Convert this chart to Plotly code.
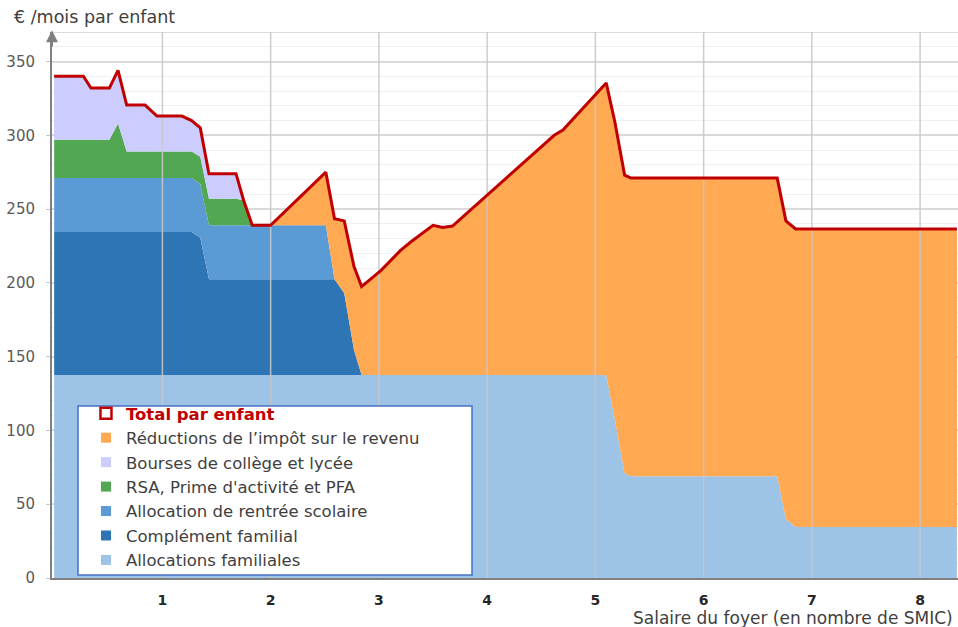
import plotly.graph_objects as go

# Salaire du foyer, en nombre de SMIC (points de rupture des barèmes)
salaire_smic = [0, 0.27, 0.34, 0.51, 0.59, 0.67, 0.84, 0.95, 1.18, 1.27,
                1.35, 1.43, 1.68, 1.75, 1.83, 2.0, 2.51, 2.59, 2.68, 2.77,
                2.84, 3.02, 3.2, 3.3, 3.5, 3.59, 3.68, 4.0, 4.62, 4.7,
                5.1, 5.18, 5.27, 5.33, 6.68, 6.76, 6.85, 8.34]

# Montants en euros par mois et par enfant
allocations_familiales = [137.5, 137.5, 137.5, 137.5, 137.5, 137.5, 137.5, 137.5, 137.5, 137.5,
                          137.5, 137.5, 137.5, 137.5, 137.5, 137.5, 137.5, 137.5, 137.5, 137.5,
                          137.5, 137.5, 137.5, 137.5, 137.5, 137.5, 137.5, 137.5, 137.5, 137.5,
                          137.5, 107, 71, 69, 69, 40, 34.5, 34.5]
complement_familial = [97, 97, 97, 97, 97, 97, 97, 97, 97, 97,
                       93, 65, 65, 65, 65, 65, 65, 65, 55.5, 17,
                       0, 0, 0, 0, 0, 0, 0, 0, 0, 0,
                       0, 0, 0, 0, 0, 0, 0, 0]
rentree_scolaire = [36.5, 36.5, 36.5, 36.5, 36.5, 36.5, 36.5, 36.5, 36.5, 36.5,
                    36.5, 36.5, 36.5, 36.5, 36.5, 36.5, 36.5, 0, 0, 0,
                    0, 0, 0, 0, 0, 0, 0, 0, 0, 0,
                    0, 0, 0, 0, 0, 0, 0, 0]
rsa_prime_pfa = [26, 26, 26, 26, 37, 18, 18, 18, 18, 18,
                 18.5, 18, 18, 17, 0, 0, 0, 0, 0, 0,
                 0, 0, 0, 0, 0, 0, 0, 0, 0, 0,
                 0, 0, 0, 0, 0, 0, 0, 0]
bourses = [43, 43, 35, 35, 36, 31.5, 31.5, 24, 24, 21,
           19.5, 17, 17, 0, 0, 0, 0, 0, 0, 0,
           0, 0, 0, 0, 0, 0, 0, 0, 0, 0,
           0, 0, 0, 0, 0, 0, 0, 0]
reductions_impot = [0, 0, 0, 0, 0, 0, 0, 0, 0, 0,
                    0, 0, 0, 0, 0, 0, 36, 41, 49, 56.5,
                    60, 71, 84.5, 90.5, 101.5, 100, 101, 122, 162.5, 166,
                    198, 202, 202, 202, 202, 202, 202, 202]

x_ticks = [1, 2, 3, 4, 5, 6, 7, 8]
x_tick_labels = ["1", "2", "3", "4", "5", "6", "7", "8"]
y_ticks = [0, 50, 100, 150, 200, 250, 300, 350]

# Couches empilées, du bas vers le haut
layers = [
    ("Allocations familiales", allocations_familiales, "#9DC3E6"),
    ("Complément familial", complement_familial, "#2E75B6"),
    ("Allocation de rentrée scolaire", rentree_scolaire, "#5B9BD5"),
    ("RSA, Prime d'activité et PFA", rsa_prime_pfa, "#52A852"),
    ("Bourses de collège et lycée", bourses, "#CCCCFF"),
    ("Réductions de l’impôt sur le revenu", reductions_impot, "#FFA953"),
]

total = [sum(vals) for vals in zip(*[l[1] for l in layers])]

Y_MAX = 370
TOTAL_COLOR = "#C00000"
TEXT_COLOR = "#404040"
FONT = "DejaVu Sans"

fig = go.Figure()

for name, values, color in layers:
    fig.add_trace(go.Scatter(
        x=salaire_smic, y=values, name=name, mode="none",
        stackgroup="aides", fillcolor=color, showlegend=False,
        hoverinfo="skip",
    ))

# Lignes verticales de la grille, dessinées au-dessus des aires
grid_x, grid_y = [], []
for t in x_ticks:
    grid_x += [t, t, None]
    grid_y += [0, Y_MAX, None]
fig.add_trace(go.Scatter(
    x=grid_x, y=grid_y, mode="lines",
    line=dict(color="rgba(200,200,200,0.9)", width=1.5),
    showlegend=False, hoverinfo="skip",
))

fig.add_trace(go.Scatter(
    x=salaire_smic, y=total, mode="lines", name="Total par enfant",
    line=dict(color=TOTAL_COLOR, width=3), showlegend=False,
))

# Entrées de légende
fig.add_trace(go.Scatter(
    x=[None], y=[None], mode="markers",
    name=f"<b><span style='color:{TOTAL_COLOR}'>Total par enfant</span></b>",
    marker=dict(symbol="square-open", size=11, color=TOTAL_COLOR,
                line=dict(width=2.5, color=TOTAL_COLOR)),
))
for name, values, color in reversed(layers):
    fig.add_trace(go.Scatter(
        x=[None], y=[None], mode="markers", name=name,
        marker=dict(symbol="square", size=10, color=color),
    ))

fig.update_layout(
    width=958, height=627,
    margin=dict(l=52, r=0, t=32, b=49),
    paper_bgcolor="white", plot_bgcolor="white",
    font=dict(family=FONT, color=TEXT_COLOR),
    showlegend=True,
    legend=dict(
        x=0.0375, y=0.3333, xanchor="left", yanchor="top",
        bgcolor="rgba(0,0,0,0)", borderwidth=0,
        font=dict(family=FONT, size=16.5, color=TEXT_COLOR),
        traceorder="normal",
    ),
    xaxis=dict(
        range=[-0.02, 8.35], tickvals=x_ticks, ticktext=x_tick_labels,
        showgrid=False, zeroline=False,
        showline=True, linecolor="#808080", linewidth=2,
        ticks="", ticklabelstandoff=8,
        tickfont=dict(family=FONT, size=14, color="#262626", weight="bold"),
    ),
    yaxis=dict(
        range=[0, Y_MAX], tickvals=y_ticks,
        showgrid=True, gridcolor="#d9d9d9", gridwidth=1.5,
        minor=dict(dtick=10, showgrid=True, gridcolor="#f0f0f0", gridwidth=1),
        zeroline=False,
        showline=True, linecolor="#808080", linewidth=2,
        ticks="outside", ticklen=4, tickcolor="#c8c8c8",
        ticklabelstandoff=8,
        tickfont=dict(family=FONT, size=15, color="#595959"),
    ),
    shapes=[
        dict(type="line", xref="paper", yref="y", x0=0, x1=1, y0=Y_MAX, y1=Y_MAX,
             line=dict(color="#d0d0d0", width=1.5), layer="below"),
        # cadre de la légende
        dict(type="rect", xref="paper", yref="paper",
             x0=0.0287, x1=0.4636, y0=0.0055, y1=0.315,
             fillcolor="white", line=dict(color="#4472C4", width=1.5),
             layer="above"),
    ],
    annotations=[
        dict(text="€ /mois par enfant", xref="paper", yref="paper",
             x=-0.046, y=1.027, xanchor="left", yanchor="middle",
             showarrow=False, bgcolor="white", borderpad=3,
             font=dict(family=FONT, size=17.5, color=TEXT_COLOR)),
        dict(text="Salaire du foyer (en nombre de SMIC)", xref="paper", yref="paper",
             x=0.997, y=-0.073, xanchor="right", yanchor="middle",
             showarrow=False,
             font=dict(family=FONT, size=17, color=TEXT_COLOR)),
        dict(text="", xref="paper", yref="paper", x=0, y=1.003,
             showarrow=True, ax=0, ay=18, arrowhead=2, arrowsize=1.2,
             arrowwidth=2, arrowcolor="#808080", standoff=0),
    ],
)

fig.write_html("out.html")
